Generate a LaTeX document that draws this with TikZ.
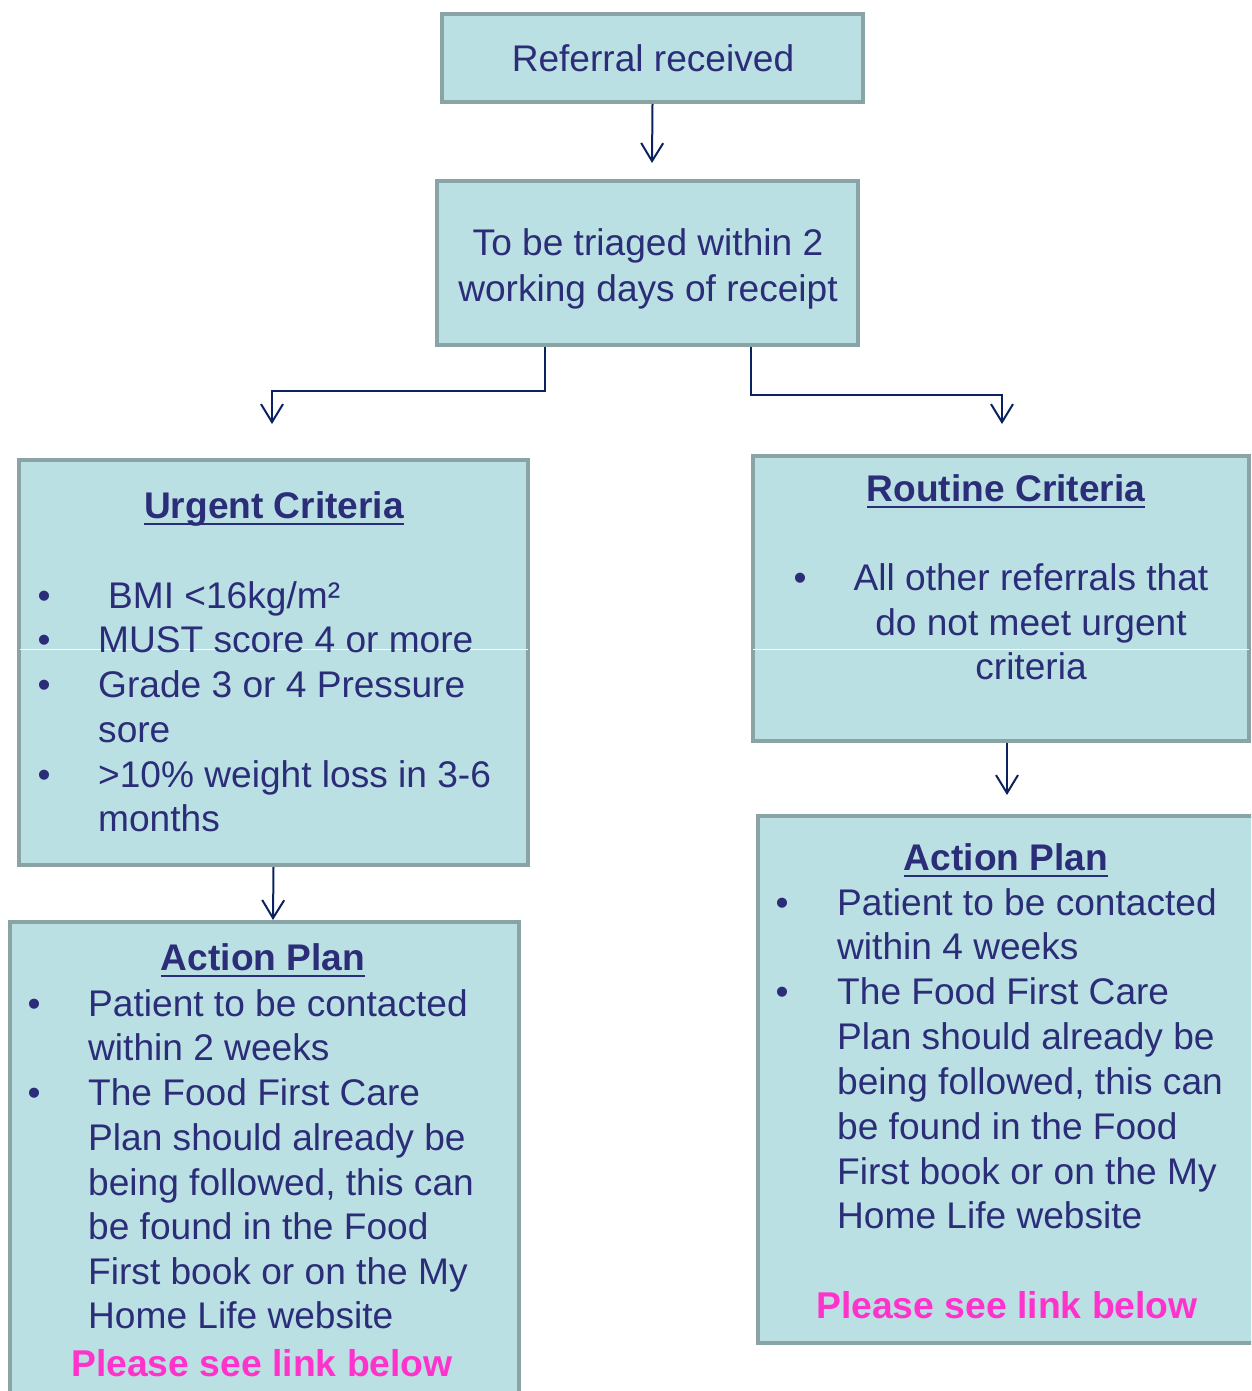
\documentclass[tikz,border=0pt]{standalone}
\usepackage{fontspec}
\setmainfont{Liberation Sans}
\usetikzlibrary{arrows.meta}
\definecolor{boxfill}{RGB}{187,224,227}
\definecolor{boxline}{RGB}{138,163,165}
\definecolor{txtc}{RGB}{43,45,120}
\definecolor{conn}{RGB}{10,34,96}
\definecolor{pinkc}{RGB}{255,51,204}
\begin{document}
\begin{tikzpicture}[x=1pt,y=-1pt,
  box/.style={draw=boxline, fill=boxfill, line width=4pt, inner sep=0pt, rectangle},
  tx/.style={inner sep=0pt, text=txtc, font=\fontsize{37.1}{45}\selectfont},
  ttl/.style={inner sep=0pt, text=txtc, font=\fontsize{37.1}{45}\selectfont\bfseries, anchor=base},
  pk/.style={inner sep=0pt, text=pinkc, font=\fontsize{37.3}{45}\selectfont\bfseries, anchor=base},
  ul/.style={draw=txtc, line width=2.8pt},
  conline/.style={draw=conn, line width=2pt},
  arr/.style={conline, -{Straight Barb[length=18pt,width=22pt,line width=2pt]}},
  artefact/.style={draw=white, line width=1pt}]
\useasboundingbox (0,0) rectangle (1251,1391);
\begin{scope}
\clip (0,0) rectangle (1251,1391);
% boxes
\node[box, minimum width=421, minimum height=88] (b1) at (652.5,58) {};
\node[box, minimum width=421, minimum height=164] (b2) at (647.5,263) {};
\node[box, minimum width=509, minimum height=405] (urg) at (273.5,662.5) {};
\node[box, minimum width=496, minimum height=285] (rout) at (1001,598.5) {};
\node[box, minimum width=509, minimum height=488] (apl) at (264.5,1166) {};
\node[box, minimum width=512, minimum height=527] (apr) at (1014,1079.5) {};
% artefact lines
\draw[artefact] (20,649) -- (528,649);
\draw[artefact] (753,649) -- (1249,649);
\end{scope}
% connector end points
\coordinate (t1) at (652,163);
\coordinate (tl) at (272,424);
\coordinate (tr) at (1002,424);
\coordinate (t3) at (273,920);
\coordinate (t4) at (1007,795);
\draw[arr] (b1.south) -- (t1);
\draw[arr] (b2.south -| 545,0) -- (545,391) -| (tl);
\draw[arr] (b2.south -| 751,0) -- (751,395) -| (tr);
\draw[arr] (urg.south) -- (t3);
\draw[arr] (rout.south -| 1007,0) -- (t4);
% box 1 & 2 text
\node[tx, anchor=base] (r1) at (653,72) {Referral received};
\node[tx, anchor=base] (r2a) at (648,255) {To be triaged within 2};
\node[tx, anchor=base] (r2b) at (648,301) {working days of receipt};
% urgent
\node[ttl] (ut) at (274,518) {Urgent Criteria};
\draw[ul] ([yshift=-6pt]ut.base west) -- ([yshift=-6pt]ut.base east);
\node[tx, anchor=base] (ub1) at (44,608) {•};
\node[tx, anchor=base west] (u1) at (108,608) {BMI <16kg/m²};
\node[tx, anchor=base] (ub2) at (44,652) {•};
\node[tx, anchor=base west] (u2) at (98,652) {MUST score 4 or more};
\node[tx, anchor=base] (ub3) at (44,697) {•};
\node[tx, anchor=base west] (u3) at (98,697) {Grade 3 or 4 Pressure};
\node[tx, anchor=base west] (u4) at (98,742) {sore};
\node[tx, anchor=base] (ub4) at (44,787) {•};
\node[tx, anchor=base west] (u5) at (98,787) {>10\% weight loss in 3-6};
\node[tx, anchor=base west] (u6) at (98,831) {months};
% routine
\node[ttl] (rt) at (1006,501) {Routine Criteria};
\draw[ul] ([yshift=-6pt]rt.base west) -- ([yshift=-6pt]rt.base east);
\node[tx, anchor=base] (rb1) at (800,590) {•};
\node[tx, anchor=base] (ro1) at (1031,590) {All other referrals that};
\node[tx, anchor=base] (ro2) at (1031,635) {do not meet urgent};
\node[tx, anchor=base] (ro3) at (1031,679) {criteria};
% left action plan
\node[ttl] (alt) at (263,970) {Action Plan};
\draw[ul] ([yshift=-6pt]alt.base west) -- ([yshift=-6pt]alt.base east);
\node[tx, anchor=base] (lb1) at (34,1016) {•};
\node[tx, anchor=base west] (l1) at (88,1016) {Patient to be contacted};
\node[tx, anchor=base west] (l2) at (88,1060) {within 2 weeks};
\node[tx, anchor=base] (lb2) at (34,1105) {•};
\node[tx, anchor=base west] (l3) at (88,1105) {The Food First Care};
\node[tx, anchor=base west] (l4) at (88,1150) {Plan should already be};
\node[tx, anchor=base west] (l5) at (88,1195) {being followed, this can};
\node[tx, anchor=base west] (l6) at (88,1239) {be found in the Food};
\node[tx, anchor=base west] (l7) at (88,1284) {First book or on the My};
\node[tx, anchor=base west] (l8) at (88,1328) {Home Life website};
\node[pk] (lp) at (262,1376) {Please see link below};
% right action plan
\node[ttl] (art) at (1006,870) {Action Plan};
\draw[ul] ([yshift=-6pt]art.base west) -- ([yshift=-6pt]art.base east);
\node[tx, anchor=base] (rb2) at (782,915) {•};
\node[tx, anchor=base west] (p1) at (837,915) {Patient to be contacted};
\node[tx, anchor=base west] (p2) at (837,959) {within 4 weeks};
\node[tx, anchor=base] (rb3) at (782,1004) {•};
\node[tx, anchor=base west] (p3) at (837,1004) {The Food First Care};
\node[tx, anchor=base west] (p4) at (837,1049) {Plan should already be};
\node[tx, anchor=base west] (p5) at (837,1094) {being followed, this can};
\node[tx, anchor=base west] (p6) at (837,1139) {be found in the Food};
\node[tx, anchor=base west] (p7) at (837,1184) {First book or on the My};
\node[tx, anchor=base west] (p8) at (837,1228) {Home Life website};
\node[pk] (rp) at (1007,1318) {Please see link below};
\end{tikzpicture}
\end{document}
